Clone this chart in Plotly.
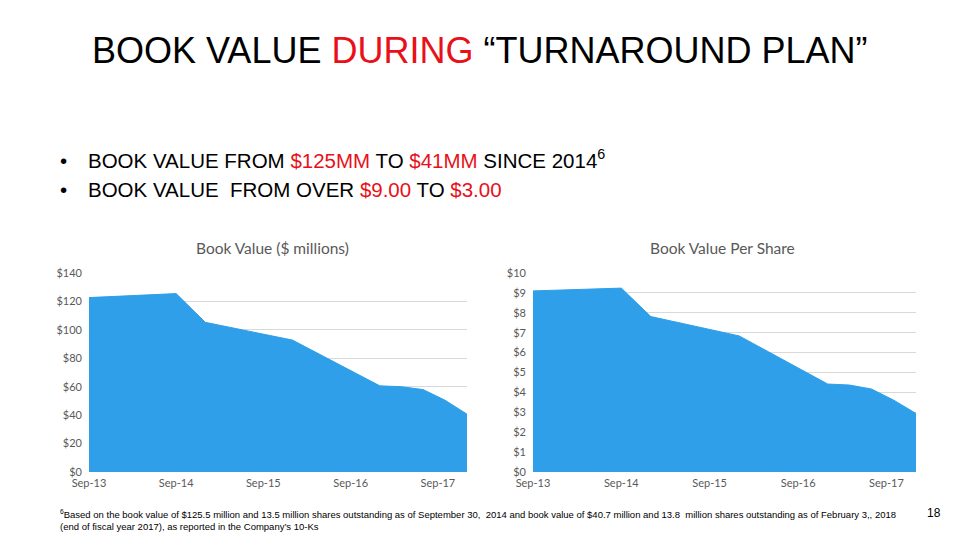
import plotly.graph_objects as go

# ---- data ----
dates = ["2013-09-01", "2014-09-01", "2015-01-01", "2016-01-01", "2017-01-01",
         "2017-04-01", "2017-07-01", "2017-10-01", "2018-01-01"]
book_value_mm = [122.7, 125.5, 105.3, 92.8, 60.6, 60.0, 58.0, 50.5, 40.7]
book_value_per_share = [9.10, 9.24, 7.81, 6.84, 4.42, 4.37, 4.17, 3.61, 2.94]
tick_dates = ["2013-09-01", "2014-09-01", "2015-09-01", "2016-09-01", "2017-09-01"]
tick_labels = ["Sep-13", "Sep-14", "Sep-15", "Sep-16", "Sep-17"]
left_yticks = [0, 20, 40, 60, 80, 100, 120, 140]
left_ylabels = ["$0", "$20", "$40", "$60", "$80", "$100", "$120", "$140"]
right_yticks = [0, 1, 2, 3, 4, 5, 6, 7, 8, 9, 10]
right_ylabels = ["$0", "$1", "$2", "$3", "$4", "$5", "$6", "$7", "$8", "$9", "$10"]

# page body has an 8px margin: lay out in a 952x532 figure, offset by 8px
OFF = 8
W, H = 960 - OFF, 540 - OFF


def px(x):
    return (x - OFF) / W


def py(y):
    return 1 - (y - OFF) / H


FILL = "#2E9FE8"
RED = "#E8111A"
GRAY = "#595959"
GRID = "#D9D9D9"

fig = go.Figure()
fig.add_trace(go.Scatter(x=dates, y=book_value_mm, mode="lines", fill="tozeroy",
                         fillcolor=FILL, line=dict(color=FILL, width=1),
                         xaxis="x", yaxis="y", hoverinfo="skip", showlegend=False))
fig.add_trace(go.Scatter(x=dates, y=book_value_per_share, mode="lines", fill="tozeroy",
                         fillcolor=FILL, line=dict(color=FILL, width=1),
                         xaxis="x2", yaxis="y2", hoverinfo="skip", showlegend=False))

tickfont = dict(family="Lato, Open Sans, sans-serif", size=11, color=GRAY)
xcommon = dict(type="date", range=["2013-09-01", "2018-01-01"], tickvals=tick_dates,
               ticktext=tick_labels, showgrid=False, zeroline=False, showline=False,
               tickfont=tickfont, ticks="", automargin=False, ticklabelstandoff=3)
ycommon = dict(showgrid=True, gridcolor=GRID, gridwidth=1, zeroline=False,
               showline=False, tickfont=tickfont, ticks="", automargin=False,
               ticklabelstandoff=6)

fig.update_layout(
    width=W, height=H, margin=dict(l=0, r=0, t=0, b=0, autoexpand=False),
    paper_bgcolor="white", plot_bgcolor="white",
    xaxis=dict(domain=[px(89), px(467)], anchor="y", **xcommon),
    yaxis=dict(domain=[py(472), py(273)], anchor="x", range=[0, 140],
               tickvals=left_yticks, ticktext=left_ylabels, **ycommon),
    xaxis2=dict(domain=[px(533), px(916)], anchor="y2", **xcommon),
    yaxis2=dict(domain=[py(472), py(273)], anchor="x2", range=[0, 10],
                tickvals=right_yticks, ticktext=right_ylabels, **ycommon),
)

ann = []
ann.append(dict(text=f"BOOK VALUE <span style='color:{RED}'>DURING</span> \u201cTURNAROUND PLAN\u201d",
                x=px(479), y=py(50), xref="paper", yref="paper", xanchor="center",
                yanchor="middle", showarrow=False,
                font=dict(family="Liberation Sans, Arial, sans-serif", size=36, color="black")))
bullet_font = dict(family="Liberation Sans, Arial, sans-serif", size=20.5, color="black")
for yb in (160, 190):
    ann.append(dict(text="\u2022", x=px(58), y=py(yb), xref="paper", yref="paper",
                    xanchor="left", yanchor="middle", showarrow=False, font=bullet_font))
ann.append(dict(text=f"BOOK VALUE FROM <span style='color:{RED}'>$125MM</span> TO "
                     f"<span style='color:{RED}'>$41MM</span> SINCE 2014<sup>6</sup>",
                x=px(86), y=py(159), xref="paper", yref="paper", xanchor="left",
                yanchor="middle", showarrow=False, font=bullet_font))
ann.append(dict(text=f"BOOK VALUE  FROM OVER <span style='color:{RED}'>$9.00</span> TO "
                     f"<span style='color:{RED}'>$3.00</span>",
                x=px(86), y=py(189), xref="paper", yref="paper", xanchor="left",
                yanchor="middle", showarrow=False, font=bullet_font))
ctitle_font = dict(family="Lato, Open Sans, sans-serif", size=15.5, color=GRAY)
ann.append(dict(text="Book Value ($ millions)", x=px(272), y=py(248), xref="paper",
                yref="paper", xanchor="center", yanchor="middle", showarrow=False,
                font=ctitle_font))
ann.append(dict(text="Book Value Per Share", x=px(722), y=py(248), xref="paper",
                yref="paper", xanchor="center", yanchor="middle", showarrow=False,
                font=ctitle_font))
foot_font = dict(family="Liberation Sans, Arial, sans-serif", size=9.5, color="black")
ann.append(dict(text="<sup>6</sup>Based on the book value of $125.5 million and 13.5 million shares outstanding as of September 30,  2014 and book value of $40.7 million and 13.8  million shares outstanding as of February 3,, 2018"
                     "<br>(end of fiscal year 2017), as reported in the Company\u2019s 10-Ks",
                x=px(58), y=py(520), xref="paper", yref="paper", xanchor="left",
                yanchor="middle", align="left", showarrow=False, font=foot_font))
ann.append(dict(text="18", x=px(934), y=py(513), xref="paper", yref="paper",
                xanchor="center", yanchor="middle", showarrow=False,
                font=dict(family="Liberation Sans, Arial, sans-serif", size=12, color="black")))
fig.update_layout(annotations=ann)

fig.write_html("out.html")
